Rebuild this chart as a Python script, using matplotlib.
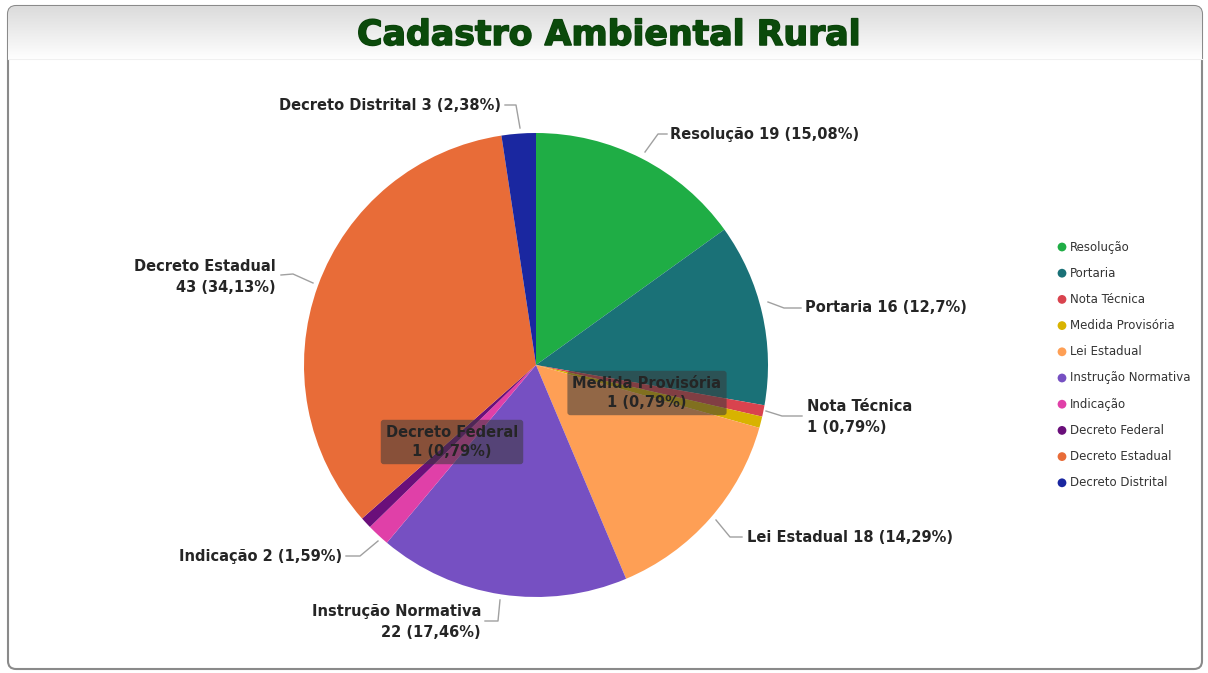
import matplotlib
matplotlib.use("Agg")
import matplotlib.pyplot as plt
import matplotlib.patheffects as pe
import numpy as np
from matplotlib.patches import FancyBboxPatch

categories = ["Resolução", "Portaria", "Nota Técnica", "Medida Provisória", "Lei Estadual",
              "Instrução Normativa", "Indicação", "Decreto Federal", "Decreto Estadual", "Decreto Distrital"]
values = [19, 16, 1, 1, 18, 22, 2, 1, 43, 3]
percent_labels = ["15,08%", "12,7%", "0,79%", "0,79%", "14,29%", "17,46%", "1,59%", "0,79%", "34,13%", "2,38%"]
colors = ["#1FAD45", "#1A7177", "#D9434E", "#D8B300", "#FE9F55",
          "#7650C2", "#E040A8", "#6A0F7A", "#E86C38", "#1A27A0"]
title = "Cadastro Ambiental Rural"

W, H = 1208, 673
fig = plt.figure(figsize=(W / 100, H / 100), dpi=100)
ax = fig.add_axes([0, 0, 1, 1])
ax.set_xlim(0, W)
ax.set_ylim(0, H)
ax.axis("off")

def Y(y):
    return H - y

# frame
frame = FancyBboxPatch((8, Y(669)), 1194, 663, boxstyle="round,pad=0,rounding_size=8",
                       fc="white", ec="#8a8a8a", lw=1.5, zorder=0)
ax.add_patch(frame)
# header gradient
grad = np.linspace(0.86, 1.0, 64).reshape(-1, 1)
grad = np.dstack([grad, grad, grad])
im = ax.imshow(grad, extent=(8, 1202, Y(60), Y(6)), aspect="auto", zorder=0.5, origin="upper")
im.set_clip_path(frame)
ax.plot([8, 1202], [Y(59), Y(59)], color="#f0f0f0", lw=0.8, zorder=0.6)

ax.text(609, Y(35), title, ha="center", va="center", fontsize=25, fontweight="heavy",
        family="DejaVu Sans", color="#0B4A0B", zorder=3,
        path_effects=[pe.withStroke(linewidth=1.1, foreground="#0A400A")])

# pie
cx, cy, r = 536, 365, 232
wedges, _ = ax.pie(values, colors=colors, startangle=90, counterclock=False,
                   center=(cx, Y(cy)), radius=r, frame=True,
                   wedgeprops=dict(linewidth=0))
ax.set_xlim(0, W)
ax.set_ylim(0, H)
ax.set_aspect("equal")
ax.axis("off")

tfont = dict(fontsize=10.5, fontweight="bold", color="#252525", family="DejaVu Sans")
lc = "#a0a0a0"

def lbl(text, tx, ty, ha, pts):
    ax.text(tx, Y(ty), text, ha=ha, va="center", linespacing=1.55, zorder=4, **tfont)
    xs = [p[0] for p in pts]
    ys = [Y(p[1]) for p in pts]
    ax.plot(xs, ys, color=lc, lw=1, zorder=3)

lbl(f"{categories[9]} {values[9]} ({percent_labels[9]})", 501, 105, "right",
    [(505, 105), (516, 105), (520, 128)])
lbl(f"{categories[0]} {values[0]} ({percent_labels[0]})", 670, 134, "left",
    [(645, 152), (658, 134), (667, 134)])
lbl(f"{categories[1]} {values[1]} ({percent_labels[1]})", 805, 308, "left",
    [(768, 302), (784, 308), (801, 308)])
lbl(f"{categories[2]}\n{values[2]} ({percent_labels[2]})", 807, 417, "left",
    [(766, 411), (782, 416), (802, 416)])
lbl(f"{categories[4]} {values[4]} ({percent_labels[4]})", 747, 537, "left",
    [(716, 520), (730, 537), (742, 537)])
lbl(f"{categories[5]}\n{values[5]} ({percent_labels[5]})", 481, 622, "right",
    [(485, 621), (498, 621), (500, 600)])
lbl(f"{categories[6]} {values[6]} ({percent_labels[6]})", 342, 556, "right",
    [(346, 556), (360, 556), (378, 541)])
lbl(f"{categories[8]}\n{values[8]} ({percent_labels[8]})", 276, 277, "right",
    [(281, 275), (293, 274), (313, 283)])

# inside boxed labels
def boxlbl(text, x, y):
    ax.text(x, Y(y), text, ha="center", va="center", linespacing=1.35, zorder=5,
            bbox=dict(boxstyle="round,pad=0.35,rounding_size=0.2", fc="#3a3a3a", ec="none", alpha=0.55),
            **tfont)

boxlbl(f"{categories[3]}\n{values[3]} ({percent_labels[3]})", 647, 393)
boxlbl(f"{categories[7]}\n{values[7]} ({percent_labels[7]})", 452, 442)

# legend
ly0, dy = 247, 26.2
for i, (c, col) in enumerate(zip(categories, colors)):
    yy = Y(ly0 + i * dy)
    ax.scatter([1062], [yy], s=40, color=col, zorder=5, edgecolors="none")
    ax.text(1070, yy, c, ha="left", va="center", fontsize=8.5, color="#333333", zorder=5,
            family="DejaVu Sans")

fig.savefig("out.png", dpi=100)
